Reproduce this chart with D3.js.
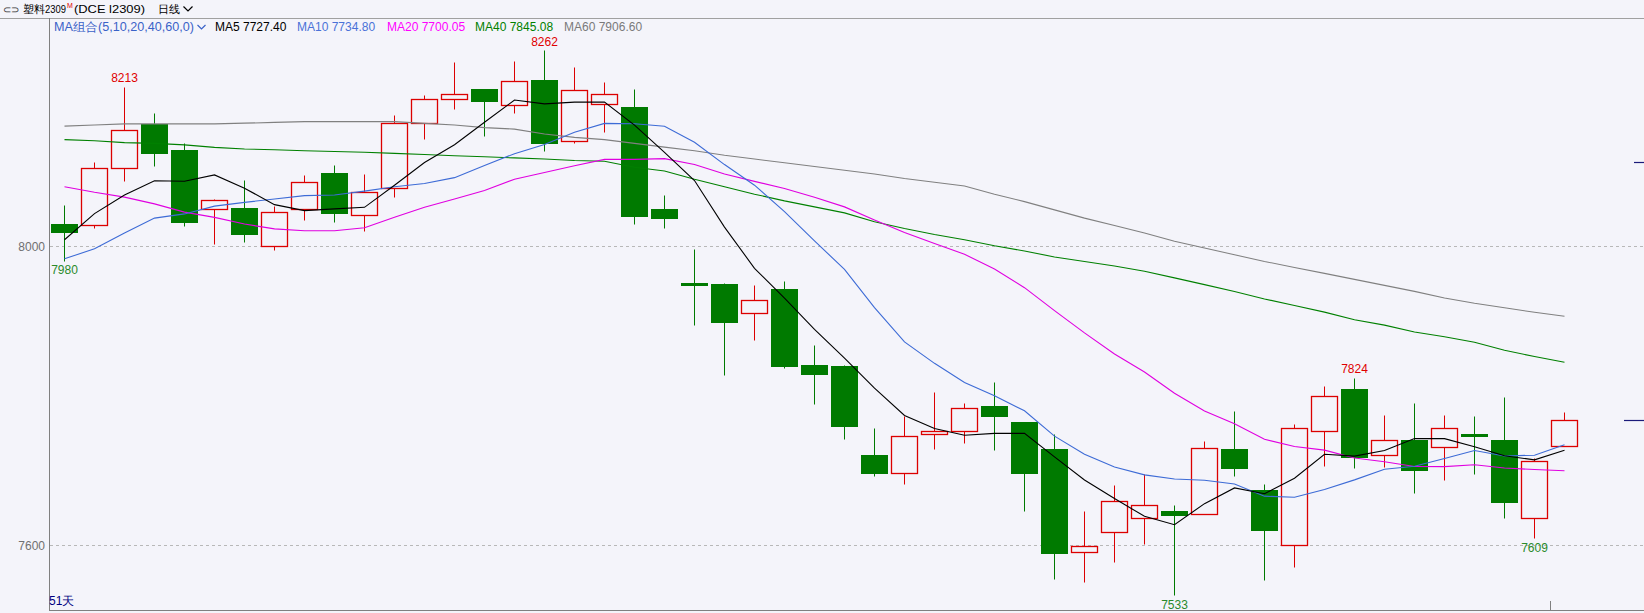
<!DOCTYPE html>
<html>
<head>
<meta charset="utf-8">
<script src="https://cdn.jsdelivr.net/npm/d3@7/dist/d3.min.js"></script>
<style>
  html, body { margin: 0; padding: 0; background: #f4f4fa; }
  svg { display: block; }
  text { font-family: "Liberation Sans", Arial, sans-serif; }
</style>
</head>
<body>
<svg id="chart" width="1644" height="613"></svg>
<script>
// Daily K-line, DCE plastic (LLDPE) 2309, last 51 sessions
const opens  = [8029, 8028, 8105, 8163, 8128, 8049, 8051, 8000, 8049, 8097,
                8041, 8077, 8165, 8197, 8210, 8189, 8222, 8140, 8190, 8186,
                8049, 7951, 7949, 7910, 7943, 7841, 7840, 7721, 7696, 7749,
                7752, 7786, 7764, 7729, 7590, 7618, 7636, 7646, 7642, 7729,
                7673, 7600, 7752, 7809, 7720, 7740, 7731, 7749, 7741, 7636,
                7732];
const highs  = [8055, 8112, 8213, 8178, 8138, 8063, 8088, 8054, 8095, 8108,
                8096, 8175, 8202, 8246, 8210, 8248, 8262, 8239, 8219, 8210,
                8068, 7996, 7950, 7948, 7953, 7868, 7841, 7756, 7773, 7805,
                7790, 7818, 7765, 7749, 7646, 7680, 7695, 7653, 7739, 7779,
                7681, 7762, 7813, 7824, 7774, 7790, 7774, 7773, 7798, 7716,
                7778];
const lows   = [7980, 8024, 8087, 8107, 8027, 8003, 8006, 7995, 8035, 8032,
                8020, 8066, 8143, 8183, 8147, 8178, 8127, 8138, 8153, 8030,
                8024, 7894, 7827, 7874, 7837, 7788, 7742, 7692, 7682, 7728,
                7737, 7727, 7645, 7555, 7550, 7577, 7602, 7533, 7641, 7692,
                7553, 7570, 7706, 7703, 7705, 7670, 7687, 7695, 7636, 7609,
                7732];
const closes = [8019, 8105, 8155, 8125, 8032, 8062, 8016, 8045, 8085, 8044,
                8072, 8164, 8197, 8204, 8194, 8221, 8138, 8209, 8204, 8040,
                8038, 7948, 7898, 7928, 7840, 7829, 7759, 7696, 7746, 7753,
                7783, 7772, 7696, 7589, 7598, 7659, 7653, 7640, 7730, 7703,
                7620, 7757, 7800, 7718, 7740, 7700, 7757, 7746, 7657, 7713,
                7767];

// Moving averages (5, 10, 20, 40, 60) at each session
const ma5  = [8009, 8044, 8069, 8088, 8087.2, 8095.8, 8078, 8056, 8048, 8050.4,
              8052.4, 8082, 8112.4, 8136.2, 8166.2, 8196, 8190.8, 8193.2, 8193.2, 8162.4,
              8125.8, 8088.2, 8026, 7970.8, 7930.8, 7889, 7850.8, 7810.4, 7774, 7756.6,
              7747.4, 7750, 7750, 7718.6, 7687.6, 7662.8, 7639, 7627.8, 7656, 7677,
              7669.2, 7690, 7722, 7719.6, 7727, 7743, 7743, 7732.2, 7720, 7714.6,
              7727.4];
const ma10 = [7983.5, 7997, 8018, 8038, 8043.6, 8054, 8059, 8063.6, 8068, 8068.8,
              8074.1, 8080, 8084.2, 8092.1, 8108.3, 8124.2, 8136.4, 8152.8, 8164.7, 8164.3,
              8160.9, 8139.5, 8109.6, 8082, 8046.6, 8007.4, 7969.5, 7918.2, 7872.4, 7843.7,
              7818.2, 7800.4, 7780.2, 7746.3, 7722.1, 7705.1, 7694.5, 7688.9, 7687.3, 7682.3,
              7666, 7664.5, 7674.9, 7687.8, 7702, 7706.1, 7716.5, 7727.1, 7719.8, 7720.8,
              7734.8];
const ma20 = [8080, 8072.5, 8066, 8057, 8046, 8039, 8030, 8023.6, 8021, 8021,
              8025, 8039, 8052.5, 8063.6, 8074.8, 8090, 8099, 8108, 8116.6, 8116.6,
              8117.5, 8109.8, 8096.9, 8087.1, 8077.5, 8065.8, 8053, 8035.5, 8018.6, 8004,
              7989.6, 7970, 7944.9, 7914.2, 7884.4, 7856.3, 7832, 7803.6, 7779.9, 7763,
              7742.1, 7732.5, 7727.6, 7717.1, 7712.1, 7705.6, 7705.5, 7708, 7703.6, 7701.6,
              7700.05];
const ma40 = [8143, 8141.5, 8139, 8138, 8136, 8132.6, 8130.5, 8129.5, 8128, 8127,
              8126, 8124.6, 8123, 8121.5, 8120, 8118.5, 8117, 8115, 8114, 8106,
              8101, 8090, 8080, 8070, 8061, 8053, 8045, 8033, 8024, 8016,
              8009, 8001, 7994, 7986, 7980, 7974, 7967, 7958, 7949, 7939.8,
              7929.8, 7921.1, 7912.2, 7902.1, 7894.8, 7885.7, 7879.2, 7871.8, 7861.1, 7852.8,
              7845.08];
const ma60 = [8161, 8162.5, 8164, 8164, 8164, 8164, 8165, 8166, 8167, 8167,
              8167, 8167, 8164.7, 8162.5, 8159, 8157, 8150.5, 8146, 8143, 8138,
              8133, 8128, 8122, 8117, 8112, 8107, 8102, 8097, 8091, 8086,
              8081, 8070, 8060, 8049, 8038, 8028, 8018, 8007, 7998, 7989,
              7980, 7972, 7964, 7956, 7948, 7940, 7931, 7924, 7918, 7912,
              7906.6];

const maNames   = ["MA5", "MA10", "MA20", "MA40", "MA60"];
const maSeries  = [ma5, ma10, ma20, ma40, ma60];
const maColors  = ["#000000", "#3d6bd6", "#e000e0", "#008000", "#808080"];
const maTextCol = ["#000000", "#4a72d8", "#ff00ff", "#008000", "#7a7a7a"];
const maLegendX = [215, 297, 387, 475, 564];

const yTicks = [8000, 7600];
const highMarks = [2, 16, 43];   // sessions whose high is printed
const lowMarks  = [0, 37, 49];   // sessions whose low is printed
const monthStarts = [50];
const priceMarks = [8113, closes[closes.length - 1]];
const dayCount = "51天";

const W = 1644, H = 613;
const plotLeft = 49, plotTop = 18, plotBottom = 610;
const RED = "#dc0000", GREEN = "#007a00", BG = "#f4f4fa";

const svg = d3.select("#chart");
svg.append("rect").attr("width", W).attr("height", H).attr("fill", BG);

const n = closes.length;
const x = d3.scaleBand().domain(d3.range(n))
  .range([49.5, 1579.5]).paddingInner(4 / 30).paddingOuter(2 / 30);
const cx = i => x(i) + x.bandwidth() / 2;
const y = d3.scaleLinear().domain([7600, 8000]).range([545.5, 246.5]);
const py = v => Math.round(y(v) - 0.5) + 0.5;

// header bar: contract name, exchange code, period selector
const hdr = svg.append("g");
hdr.append("text").attr("x", 3).attr("y", 12.5).attr("font-size", 10)
  .attr("font-family", "DejaVu Sans").attr("fill", "#333").text("⊂⊃");
hdr.append("text").attr("x", 23).attr("y", 13).attr("font-size", 11)
  .attr("font-family", "Noto Sans CJK SC").attr("fill", "#000").text("塑料");
hdr.append("text").attr("x", 45).attr("y", 13).attr("font-size", 11)
  .attr("textLength", 21).attr("lengthAdjust", "spacingAndGlyphs")
  .attr("fill", "#000").text("2309");
hdr.append("text").attr("x", 67).attr("y", 8).attr("font-size", 7)
  .attr("fill", "#e00000").text("M");
hdr.append("text").attr("x", 74).attr("y", 13).attr("font-size", 11)
  .attr("textLength", 71).attr("lengthAdjust", "spacingAndGlyphs")
  .attr("font-family", "Liberation Mono").attr("fill", "#000").text("(DCE l2309)");
hdr.append("text").attr("x", 158).attr("y", 13).attr("font-size", 11)
  .attr("font-family", "Noto Sans CJK SC").attr("fill", "#000").text("日线");
hdr.append("path").attr("d", "M183.5,6.5 L188,11 L192.5,6.5").attr("fill", "none")
  .attr("stroke", "#000").attr("stroke-width", 1.2);

// frame
svg.append("line").attr("x1", 0).attr("x2", W).attr("y1", plotTop + 0.5).attr("y2", plotTop + 0.5)
  .attr("stroke", "#a0a0a0");
svg.append("line").attr("x1", plotLeft + 0.5).attr("x2", plotLeft + 0.5)
  .attr("y1", plotTop).attr("y2", plotBottom).attr("stroke", "#808080");
svg.append("line").attr("x1", plotLeft).attr("x2", W)
  .attr("y1", plotBottom + 0.5).attr("y2", plotBottom + 0.5).attr("stroke", "#808080");

// MA legend
const leg = svg.append("g").attr("font-size", 12);
leg.append("text").attr("x", 54).attr("y", 31).attr("fill", "#3a62c8")
  .attr("textLength", 140).attr("lengthAdjust", "spacingAndGlyphs")
  .text("MA组合(5,10,20,40,60,0)");
leg.append("path").attr("d", "M197.5,25 L201.5,29 L205.5,25").attr("fill", "none")
  .attr("stroke", "#3a62c8").attr("stroke-width", 1.2);
maNames.forEach((nm, k) => {
  const s = maSeries[k];
  leg.append("text").attr("x", maLegendX[k]).attr("y", 31).attr("fill", maTextCol[k])
    .text(nm + " " + s[s.length - 1].toFixed(2));
});

// y axis gridlines and labels
const grid = svg.append("g");
yTicks.forEach(v => {
  grid.append("line").attr("x1", plotLeft + 1).attr("x2", W).attr("y1", py(v)).attr("y2", py(v))
    .attr("stroke", "#b8b8b8").attr("stroke-dasharray", "3,3");
  grid.append("text").attr("x", 45).attr("y", py(v) + 4).attr("text-anchor", "end")
    .attr("font-size", 12).attr("fill", "#707070").text(v);
});

// month divider ticks on the time axis
monthStarts.forEach(i => {
  const xx = Math.round(x(i) - 2) + 0.5;
  svg.append("line").attr("x1", xx).attr("x2", xx).attr("y1", 601).attr("y2", plotBottom)
    .attr("stroke", "#808080");
});

// candles
const candles = svg.append("g");
d3.range(n).forEach(i => {
  const o = opens[i], c = closes[i], h = highs[i], l = lows[i];
  const up = c > o;
  const col = up ? RED : GREEN;
  const xc = Math.round(cx(i) - 0.5) + 0.5;
  const bx = Math.round(x(i) - 0.5) + 0.5;
  const bw = Math.round(x.bandwidth());
  const yt = py(Math.max(o, c)), yb = py(Math.min(o, c));
  if (up) {
    candles.append("line").attr("x1", xc).attr("x2", xc).attr("y1", py(h)).attr("y2", yt)
      .attr("stroke", col);
    candles.append("line").attr("x1", xc).attr("x2", xc).attr("y1", yb).attr("y2", py(l))
      .attr("stroke", col);
    candles.append("rect").attr("x", bx).attr("y", yt).attr("width", bw)
      .attr("height", Math.max(1, yb - yt)).attr("fill", BG).attr("stroke", col)
      .attr("stroke-width", 1.3);
  } else {
    candles.append("line").attr("x1", xc).attr("x2", xc).attr("y1", py(h)).attr("y2", py(l))
      .attr("stroke", col);
    candles.append("rect").attr("x", bx - 0.5).attr("y", yt - 0.5).attr("width", bw + 1)
      .attr("height", Math.max(2, yb - yt + 1)).attr("fill", col);
  }
});

// moving average lines
const lineGen = s => d3.line().x((d, i) => cx(i)).y(d => y(d))(s);
const maG = svg.append("g").attr("fill", "none");
[4, 3, 2, 1, 0].forEach(k => {
  maG.append("path").attr("d", lineGen(maSeries[k])).attr("stroke", maColors[k])
    .attr("stroke-width", 1.1);
});

// extreme price labels
const lab = svg.append("g").attr("font-size", 12).attr("text-anchor", "middle");
highMarks.forEach(i => {
  lab.append("text").attr("x", cx(i)).attr("y", y(highs[i]) - 5).attr("fill", "#e00000")
    .text(highs[i]);
});
lowMarks.forEach(i => {
  lab.append("text").attr("x", Math.max(cx(i), 64)).attr("y", y(lows[i]) + 13)
    .attr("fill", "#2a8a2a").text(lows[i]);
});

// right-edge price marks
priceMarks.forEach((v, k) => {
  svg.append("line").attr("x1", k === 0 ? 1634 : 1624).attr("x2", W)
    .attr("y1", py(v)).attr("y2", py(v)).attr("stroke", "#1a1a7a").attr("stroke-width", 1.2);
});

// session count
svg.append("text").attr("x", 49).attr("y", 605).attr("font-size", 12)
  .attr("font-family", "Noto Sans CJK SC").attr("fill", "#000080").text(dayCount);
</script>
</body>
</html>
